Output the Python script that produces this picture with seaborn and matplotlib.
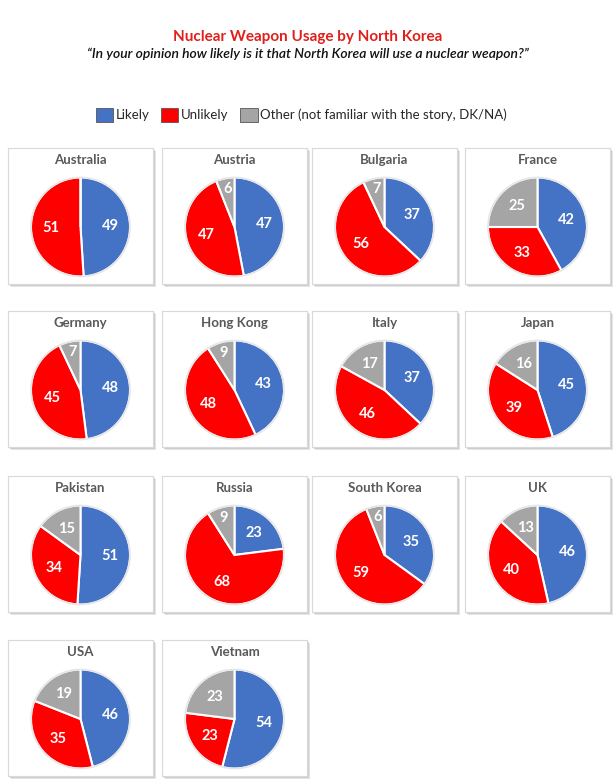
import numpy as np
import matplotlib
matplotlib.use("Agg")
import matplotlib.pyplot as plt
import matplotlib.patches as mpatches
import seaborn as sns

sns.set_style("white")
plt.rcParams['font.family'] = ['Lato', 'DejaVu Sans']

# data (percent)
countries = ["Australia", "Austria", "Bulgaria", "France",
             "Germany", "Hong Kong", "Italy", "Japan",
             "Pakistan", "Russia", "South Korea", "UK",
             "USA", "Vietnam"]
likely   = [49, 47, 37, 42, 48, 43, 37, 45, 51, 23, 35, 46, 46, 54]
unlikely = [51, 47, 56, 33, 45, 48, 46, 39, 34, 68, 59, 40, 35, 23]
other    = [0, 6, 7, 25, 7, 9, 17, 16, 15, 9, 6, 13, 19, 23]

categories = ["Likely", "Unlikely", "Other (not familiar with the story, DK/NA)"]
colors = ["#4472C4", "#FF0000", "#A5A5A5"]

W, H = 615, 782
fig = plt.figure(figsize=(W / 100, H / 100), dpi=100)

fig.text(0.5, 1 - 37 / H, "Nuclear Weapon Usage by North Korea", ha="center", va="center",
         color="#E0201B", fontsize=11, fontweight="bold")
fig.text(0.5, 1 - 54 / H, "\u201cIn your opinion how likely is it that North Korea will use a nuclear weapon?\u201d",
         ha="center", va="center", color="#111111", fontsize=10, style="italic", fontweight="semibold")

handles = [mpatches.Patch(facecolor=c, edgecolor="#555555", linewidth=0.6, label=l)
           for c, l in zip(colors, categories)]
fig.legend(handles=handles, loc="center", bbox_to_anchor=(0.49, 1 - 115 / H), ncol=3, frameon=False,
           fontsize=9.5, handlelength=1.3, handleheight=1.3, handletextpad=0.2, columnspacing=0.9)

col_x = [8, 162, 312, 465]
row_y = [148, 311, 476, 640]
bw, bh = 145, 136

for i, name in enumerate(countries):
    r, c = divmod(i, 4)
    x0, y0 = col_x[c], row_y[r]
    # soft shadow
    for k, a in [(3, "#E4E4E4"), (2, "#CFCFCF")]:
        sh = fig.add_axes([(x0 + k) / W, 1 - (y0 + bh + k) / H, bw / W, bh / H])
        sh.set_facecolor(a)
        sh.set_xticks([]); sh.set_yticks([])
        for s in sh.spines.values():
            s.set_visible(False)
    box = fig.add_axes([x0 / W, 1 - (y0 + bh) / H, bw / W, bh / H])
    box.set_facecolor("white")
    box.set_xticks([]); box.set_yticks([])
    for s in box.spines.values():
        s.set_color("#D9D9D9")
        s.set_linewidth(0.8)
    fig.text((x0 + bw / 2) / W, 1 - (y0 + 12) / H, name, ha="center", va="center",
             fontsize=9.5, fontweight="bold", color="#595959")

    vals = [likely[i], unlikely[i], other[i]]
    d = 102
    pie_ax = fig.add_axes([(x0 + bw / 2 - d / 2) / W, 1 - (y0 + 79 + d / 2) / H, d / W, d / H])
    wedges, texts = pie_ax.pie(vals, colors=colors, startangle=90, counterclock=False,
                               wedgeprops=dict(edgecolor="white", linewidth=1.5))
    pie_ax.set_xlim(-1.03, 1.03)
    pie_ax.set_ylim(-1.03, 1.03)
    pie_ax.set_aspect("equal")
    # value labels
    for w, v in zip(wedges, vals):
        if v == 0:
            continue
        ang = np.deg2rad((w.theta1 + w.theta2) / 2)
        rr = 0.6 if v >= 12 else 0.78
        pie_ax.text(rr * np.cos(ang), rr * np.sin(ang), str(v), ha="center", va="center",
                    color="white", fontsize=10.5, fontweight="bold")
    circ = mpatches.Circle((0, 0), 1.0, fill=False, edgecolor="#E6E6E6", linewidth=1.2)
    pie_ax.add_patch(circ)

fig.savefig("out.png", dpi=100)
